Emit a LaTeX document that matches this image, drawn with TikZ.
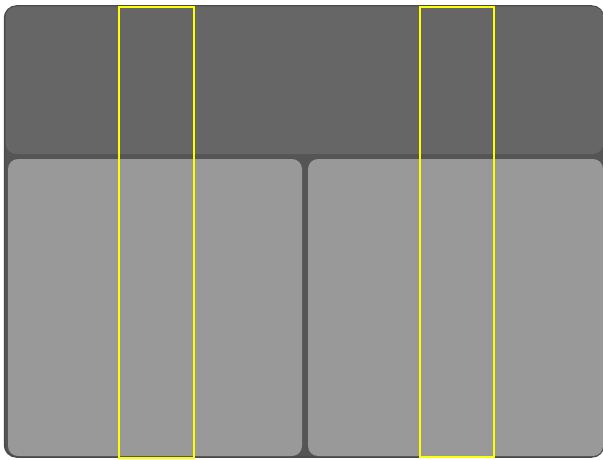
\documentclass[tikz,border=0pt]{standalone}
\definecolor{outerc}{HTML}{555555}
\definecolor{borderc}{HTML}{4A4A4A}
\definecolor{headc}{HTML}{666666}
\definecolor{panelc}{HTML}{999999}
\definecolor{hilite}{HTML}{FFFF00}
\tikzset{
  panel/.style={fill=panelc, rounded corners=10pt},
  highlight/.style={draw=hilite, line width=2pt}
}
\begin{document}
\begin{tikzpicture}[x=1pt,y=1pt]
\useasboundingbox (0,0) rectangle (603,459);
\begin{scope}
\clip (0,0) rectangle (603,459);
% outer container
\draw[fill=outerc, draw=borderc, line width=1.5pt, rounded corners=12pt] (4.5,2) rectangle (603.8,453);
% header
\fill[headc, rounded corners=11pt] (5.5,305) rectangle (603.5,452.5);
% panels
\fill[panel] (8,3) rectangle (302,300);
\fill[panel] (308,3) rectangle (603,300);
\end{scope}
% highlights
\draw[highlight] (118.5,1) rectangle (193.5,451.5);
\draw[highlight] (419.5,2) rectangle (494,451.5);
\end{tikzpicture}
\end{document}
